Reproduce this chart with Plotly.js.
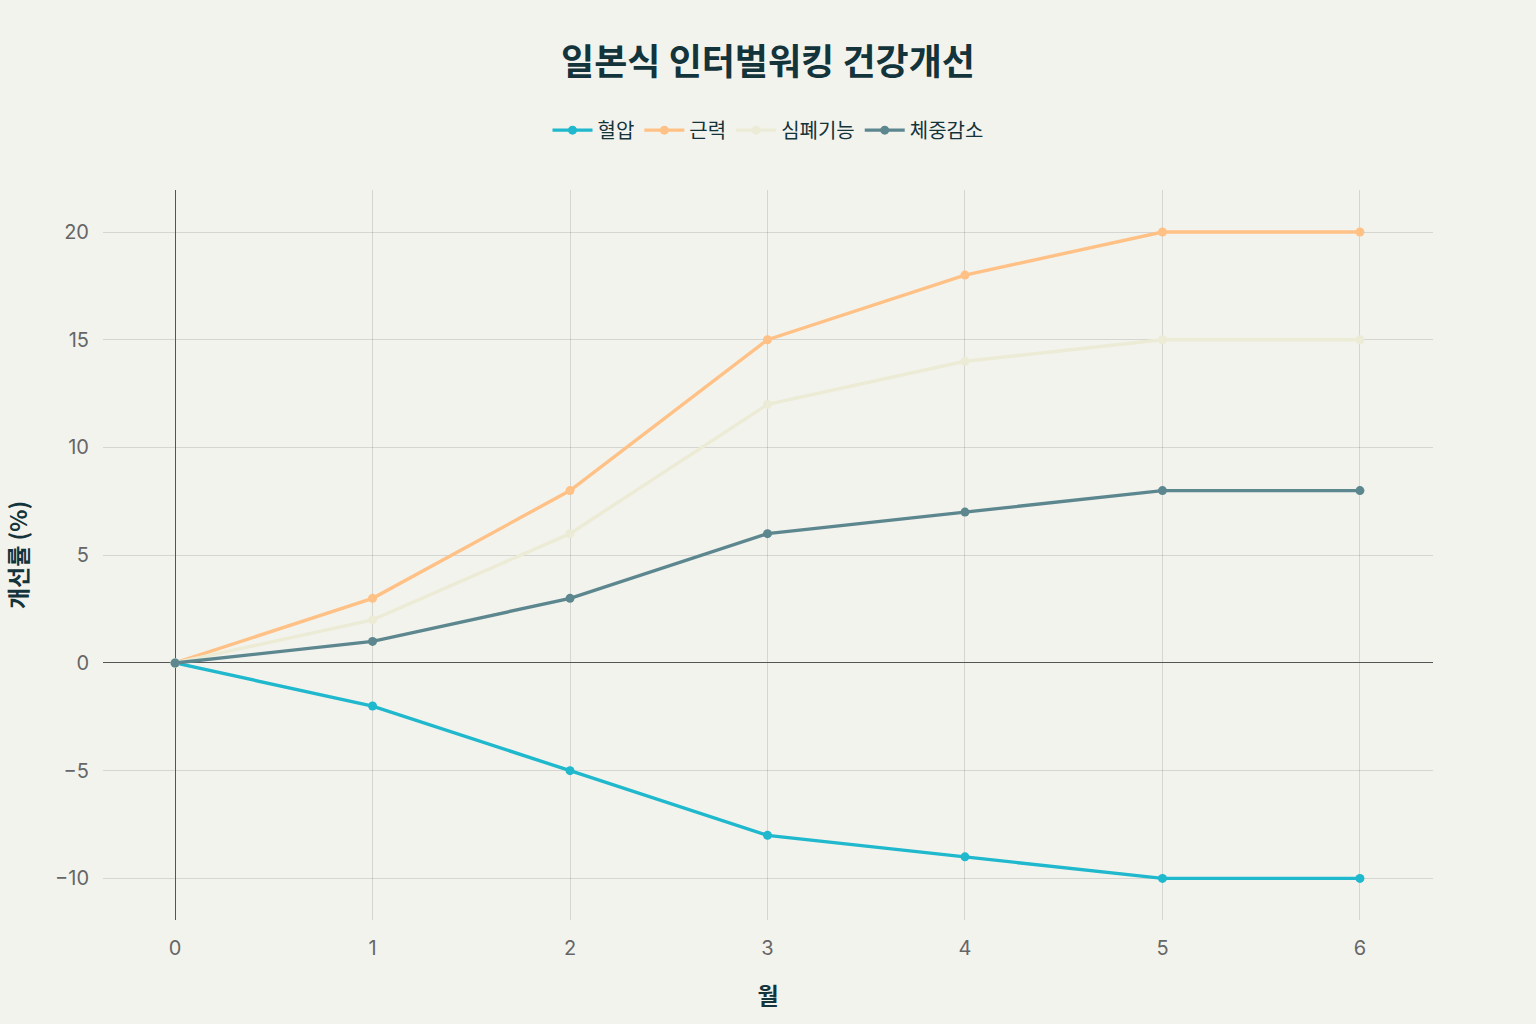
<!DOCTYPE html>
<html><head><meta charset="utf-8">
<script src="https://cdn.plot.ly/plotly-3.0.1.min.js"></script>
<style>html,body{margin:0;padding:0;background:#f3f3ee;}</style>
</head><body>
<div id="chart" style="width:1536px;height:1024px;"></div>
<script>
const months = [0, 1, 2, 3, 4, 5, 6];
const seriesNames = ["혈압", "근력", "심폐기능", "체중감소"];
const bloodPressure = [0, -2, -5, -8, -9, -10, -10];
const strength = [0, 3, 8, 15, 18, 20, 20];
const cardio = [0, 2, 6, 12, 14, 15, 15];
const weightLoss = [0, 1, 3, 6, 7, 8, 8];
const colors = ["#1FB8CD", "#FFC185", "#ECEBD5", "#5D878F"];
const values = [bloodPressure, strength, cardio, weightLoss];

const font = '"Noto Sans CJK KR", "Noto Sans", sans-serif';
const tickFont = 'Inter, "Noto Sans", sans-serif';
const traces = values.map((v, i) => ({
  x: months, y: v, name: seriesNames[i], type: 'scatter', mode: 'lines+markers',
  line: {color: colors[i], width: 3.4}, marker: {color: colors[i], size: 9}
}));

const layout = {
  width: 1536, height: 1024,
  paper_bgcolor: '#f3f3ee', plot_bgcolor: '#f3f3ee',
  font: {family: font, color: '#13343b'},
  title: {text: '<b>일본식 인터벌워킹 건강개선</b>', x: 0.5, xanchor: 'center', y: 0.939, yanchor: 'middle',
    font: {size: 36, color: '#13343b', family: font}},
  legend: {orientation: 'h', x: 0.5, xanchor: 'center', y: 1.082, yanchor: 'middle',
    font: {size: 20, color: '#13343b'}, bgcolor: 'rgba(0,0,0,0)', itemwidth: 40},
  margin: {l: 103, r: 103, t: 190, b: 104},
  xaxis: {
    title: {text: '<b>월</b>', font: {size: 23, color: '#13343b'}, standoff: 28},
    range: [-0.365, 6.37], tickvals: months, ticktext: months.map(String),
    showgrid: true, gridcolor: 'rgba(0,0,0,0.12)', gridwidth: 1,
    zeroline: true, zerolinecolor: '#555', zerolinewidth: 1,
    tickfont: {size: 20, color: '#666', family: tickFont}, showline: false,
    ticks: 'outside', ticklen: 10, tickcolor: 'rgba(0,0,0,0)'
  },
  yaxis: {
    title: {text: '<b>개선률 (%)</b>', font: {size: 23, color: '#13343b'}, standoff: 26},
    range: [-11.93, 21.95], tickvals: [-10, -5, 0, 5, 10, 15, 20],
    ticktext: ['−10', '−5', '0', '5', '10', '15', '20'],
    showgrid: true, gridcolor: 'rgba(0,0,0,0.12)', gridwidth: 1,
    zeroline: true, zerolinecolor: '#555', zerolinewidth: 1,
    tickfont: {size: 20, color: '#666', family: tickFont}, showline: false,
    ticks: 'outside', ticklen: 9, tickcolor: 'rgba(0,0,0,0)'
  }
};
Plotly.newPlot('chart', traces, layout, {displayModeBar: false});
</script>
</body></html>
